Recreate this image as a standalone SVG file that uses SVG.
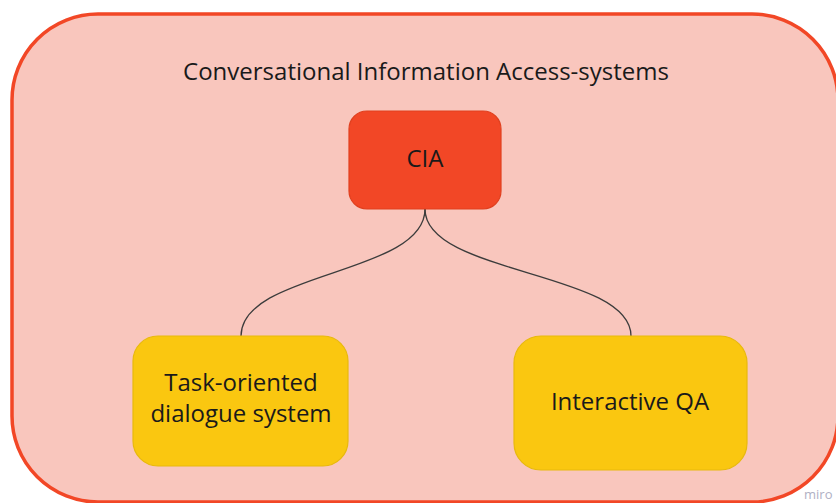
<svg xmlns="http://www.w3.org/2000/svg" width="836" height="503" viewBox="0 0 836 503">
<style>
text{font-family:"Open Sans","Liberation Sans",sans-serif;font-size:24px;fill:#1a1a1a;text-anchor:middle}
.conn{fill:none;stroke:#3c3c3c;stroke-width:1.3}
.yel{fill:#fac710;stroke:#e8b90c;stroke-width:1.2}
</style>
<rect width="836" height="503" fill="#ffffff"/>
<g id="frame">
<rect x="12" y="14" width="826" height="488" rx="86" ry="86" fill="#f9c6bd" stroke="#f24726" stroke-width="3.5"/>
<text x="426" y="80">Conversational Information Access-systems</text>
</g>
<g id="connectors">
<path class="conn" d="M425,209 C425,275 241,271 241,336"/>
<path class="conn" d="M425,209 C425,275 631,271 631,336"/>
</g>
<g id="cia">
<rect x="349" y="111" width="152" height="98" rx="18" ry="18" fill="#f24726" stroke="#e0401f" stroke-width="1.2"/>
<text x="425" y="167">CIA</text>
</g>
<g id="task">
<rect class="yel" x="133" y="336" width="215" height="130" rx="25" ry="25"/>
<text x="241" y="391">Task-oriented</text>
<text x="241" y="422">dialogue system</text>
</g>
<g id="iqa">
<rect class="yel" x="514" y="336" width="233" height="134" rx="27" ry="27"/>
<text x="630" y="410">Interactive QA</text>
</g>
<text x="804" y="499" style="font-size:13px;fill:#b0b0c4;text-anchor:start">miro</text>
</svg>
